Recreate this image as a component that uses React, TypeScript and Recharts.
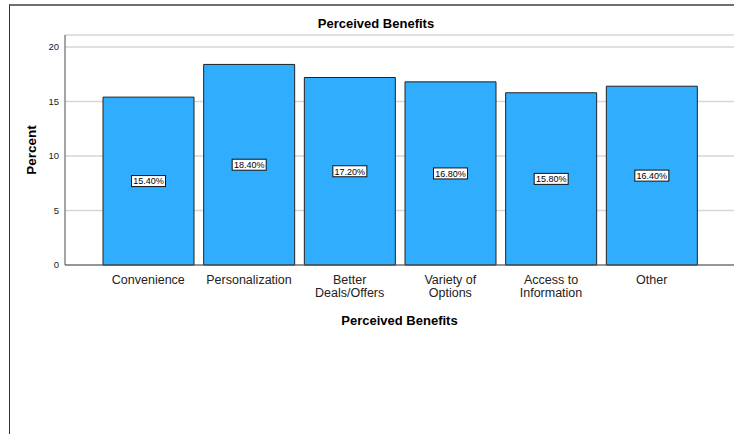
import { Bar, BarChart, CartesianGrid, LabelList, XAxis, YAxis } from "recharts";

const categories = [
  "Convenience",
  "Personalization",
  "Better Deals/Offers",
  "Variety of Options",
  "Access to Information",
  "Other",
];
const percents = [15.4, 18.4, 17.2, 16.8, 15.8, 16.4];
const yTicks = [0, 5, 10, 15, 20];

const data = categories.map((name, i) => ({ name, percent: percents[i] }));

const FONT = '"Liberation Sans", Arial, sans-serif';

// long category names go on two lines, broken at the last space
function wrapLabel(label: string): string[] {
  if (label.length <= 15) return [label];
  const cut = label.lastIndexOf(" ");
  return [label.slice(0, cut), label.slice(cut + 1)];
}

function CategoryTick(props: any) {
  const { x, y, payload } = props;
  const lines = wrapLabel(String(payload.value));
  return (
    <text x={x} y={y} textAnchor="middle" fontFamily={FONT} fontSize={12.5} fill="#222">
      {lines.map((line, i) => (
        <tspan key={i} x={x} dy={i === 0 ? 18.5 : 13.5}>
          {line}
        </tspan>
      ))}
    </text>
  );
}

function ValueBox(props: any) {
  const { x, y, width, height, value } = props;
  const cx = x + width / 2;
  const cy = y + height / 2;
  const text = `${Number(value).toFixed(2)}%`;
  return (
    <g>
      <rect x={cx - 17} y={cy - 5.5} width={34} height={11} fill="#fff" stroke="#111" strokeWidth={1} />
      <text x={cx} y={cy + 3.3} textAnchor="middle" fontFamily={FONT} fontSize={9} fill="#000">
        {text}
      </text>
    </g>
  );
}

function PercentLabel(props: any) {
  const { viewBox } = props;
  const cx = viewBox.x + 16;
  const cy = viewBox.y + viewBox.height / 2;
  return (
    <text
      x={cx}
      y={cy}
      transform={`rotate(-90, ${cx}, ${cy})`}
      textAnchor="middle"
      dominantBaseline="central"
      fontFamily={FONT}
      fontSize={13.5}
      fontWeight="bold"
      fill="#000"
    >
      Percent
    </text>
  );
}

function BenefitsLabel(props: any) {
  const { viewBox } = props;
  const cx = viewBox.x + viewBox.width / 2;
  return (
    <text
      x={cx}
      y={265 + 60}
      textAnchor="middle"
      fontFamily={FONT}
      fontSize={13}
      fontWeight="bold"
      fill="#000"
    >
      Perceived Benefits
    </text>
  );
}

export default function App() {
  return (
    <div style={{ position: "absolute", left: 0, top: 0, width: 734, height: 434, background: "#fff" }}>
      <div
        style={{
          position: "absolute",
          left: 9,
          top: 4,
          width: 725,
          height: 430,
          borderTop: "2px solid #6f6f6f",
          borderLeft: "1px solid #333",
          boxSizing: "border-box",
        }}
      />
      <div
        style={{
          position: "absolute",
          left: 276,
          top: 16,
          width: 200,
          textAlign: "center",
          fontFamily: FONT,
          fontSize: 13,
          fontWeight: "bold",
          lineHeight: "15px",
          color: "#000",
        }}
      >
        Perceived Benefits
      </div>
      <div style={{ position: "absolute", left: 0, top: 0 }}>
        <BarChart
          width={734}
          height={434}
          data={data}
          margin={{ top: 35, right: 0, bottom: 109, left: 15 }}
        >
          <CartesianGrid horizontal vertical={false} stroke="#d6d6d6" strokeWidth={1.5} />
          <XAxis
            dataKey="name"
            height={60}
            padding={{ left: 33, right: 32 }}
            tickLine={false}
            tickSize={0}
            tickMargin={0}
            interval={0}
            axisLine={{ stroke: "#4d4d4d", strokeWidth: 1 }}
            tick={<CategoryTick />}
            label={<BenefitsLabel />}
          />
          <YAxis
            width={50}
            domain={[0, 21.1]}
            ticks={yTicks}
            tickLine={false}
            tickSize={0}
            tickMargin={6}
            axisLine={{ stroke: "#4d4d4d", strokeWidth: 1 }}
            tick={{ fontFamily: FONT, fontSize: 9.5, fill: "#222" }}
            label={<PercentLabel />}
          />
          <Bar dataKey="percent" fill="#31adfe" stroke="#222" strokeWidth={1} barSize={91} isAnimationActive={false}>
            <LabelList dataKey="percent" content={<ValueBox />} />
          </Bar>
        </BarChart>
      </div>
    </div>
  );
}
